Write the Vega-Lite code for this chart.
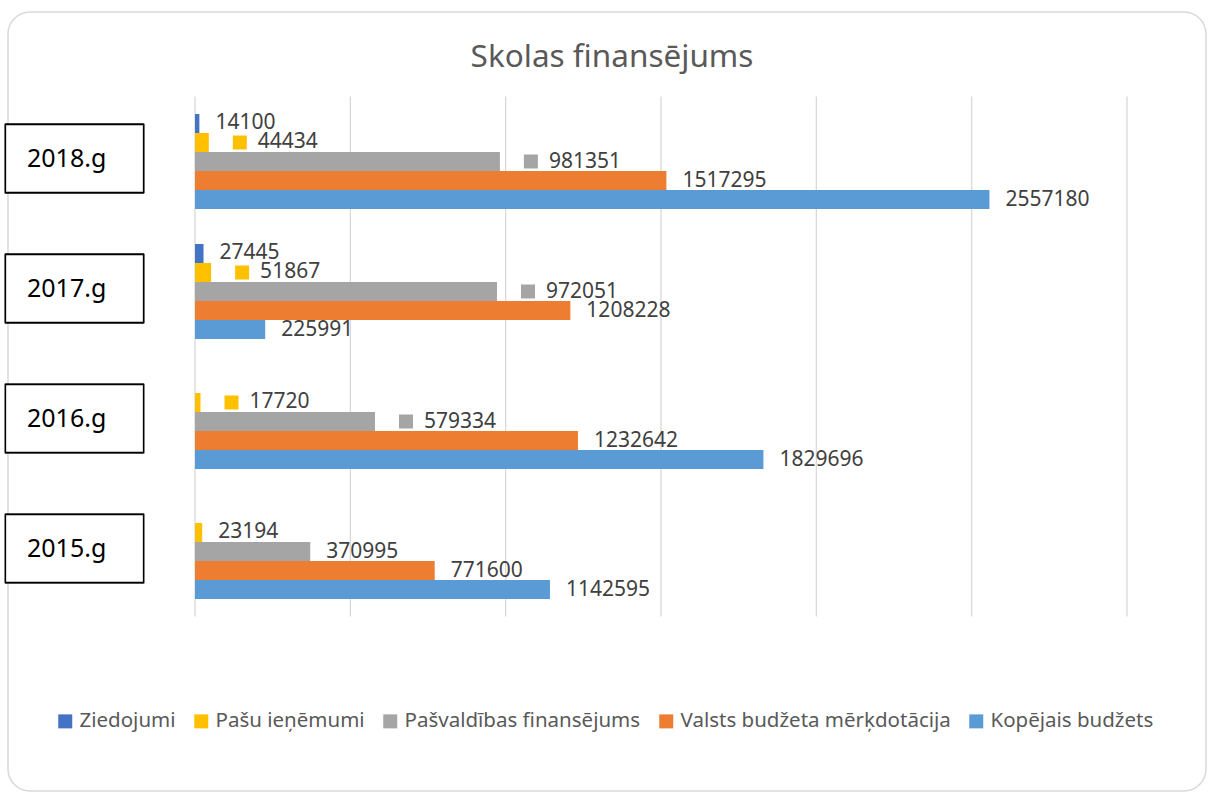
{
  "$schema": "https://vega.github.io/schema/vega-lite/v6.json",
  "width": 1198,
  "height": 779,
  "autosize": {"type": "none"},
  "padding": {"left": 8, "top": 12, "right": 2, "bottom": 2},
  "background": "white",
  "config": {
    "view": {"stroke": "#d9d9d9", "strokeWidth": 1.5, "cornerRadius": 22, "fill": "white"},
    "font": "Noto Sans"
  },
  "title": {
    "text": "Skolas finansējums",
    "fontSize": 31.5,
    "font": "Noto Sans",
    "fontWeight": "normal",
    "color": "#595959",
    "anchor": "middle",
    "frame": "group",
    "offset": -45,
    "baseline": "middle",
    "dx": 5,
    "dy": 32
  },
  "data": {
    "values": [
      {"year": "2018", "series": "Ziedojumi", "value": 14100},
      {"year": "2018", "series": "Pašu ieņēmumi", "value": 44434},
      {"year": "2018", "series": "Pašvaldības finansējums", "value": 981351},
      {"year": "2018", "series": "Valsts budžeta mērķdotācija", "value": 1517295},
      {"year": "2018", "series": "Kopējais budžets", "value": 2557180},
      {"year": "2017", "series": "Ziedojumi", "value": 27445},
      {"year": "2017", "series": "Pašu ieņēmumi", "value": 51867},
      {"year": "2017", "series": "Pašvaldības finansējums", "value": 972051},
      {"year": "2017", "series": "Valsts budžeta mērķdotācija", "value": 1208228},
      {"year": "2017", "series": "Kopējais budžets", "value": 225991},
      {"year": "2016", "series": "Pašu ieņēmumi", "value": 17720},
      {"year": "2016", "series": "Pašvaldības finansējums", "value": 579334},
      {"year": "2016", "series": "Valsts budžeta mērķdotācija", "value": 1232642},
      {"year": "2016", "series": "Kopējais budžets", "value": 1829696},
      {"year": "2015", "series": "Pašu ieņēmumi", "value": 23194},
      {"year": "2015", "series": "Pašvaldības finansējums", "value": 370995},
      {"year": "2015", "series": "Valsts budžeta mērķdotācija", "value": 771600},
      {"year": "2015", "series": "Kopējais budžets", "value": 1142595}
    ]
  },
  "layer": [
    {
      "data": {"values": [{"g": 0}, {"g": 500000}, {"g": 1000000}, {"g": 1500000}, {"g": 2000000}, {"g": 2500000}, {"g": 3000000}]},
      "mark": {"type": "rule", "color": "#d9d9d9", "strokeWidth": 1.3},
      "encoding": {
        "x": {"field": "g", "type": "quantitative", "scale": {"domain": [-601930, 3254260], "nice": false, "zero": false}, "axis": null},
        "y": {"datum": "2018", "type": "nominal", "bandPosition": -0.184, "scale": {"domain": ["2018", "2017", "2016", "2015"], "range": [84.5, 604.5], "paddingInner": 0.2692, "paddingOuter": 0.1346, "align": 0.5}, "axis": null},
        "y2": {"datum": "2015", "bandPosition": 1.184}
      }
    },
    {
      "mark": {"type": "bar"},
      "encoding": {
        "x": {"field": "value", "type": "quantitative", "scale": {"domain": [-601930, 3254260], "nice": false, "zero": false}, "axis": null},
        "x2": {"datum": 0},
        "y": {"field": "year", "type": "nominal", "scale": {"domain": ["2018", "2017", "2016", "2015"], "range": [84.5, 604.5], "paddingInner": 0.2692, "paddingOuter": 0.1346, "align": 0.5}, "axis": null},
        "yOffset": {"field": "series", "type": "nominal", "scale": {"domain": ["Ziedojumi", "Pašu ieņēmumi", "Pašvaldības finansējums", "Valsts budžeta mērķdotācija", "Kopējais budžets"], "paddingInner": 0, "paddingOuter": 0}},
        "color": {
          "field": "series", "type": "nominal",
          "scale": {"domain": ["Ziedojumi", "Pašu ieņēmumi", "Pašvaldības finansējums", "Valsts budžeta mērķdotācija", "Kopējais budžets"], "range": ["#4472C4", "#FFC000", "#A5A5A5", "#ED7D31", "#5B9BD5"]},
          "legend": {
            "orient": "none", "legendX": 47, "legendY": 699, "direction": "horizontal", "title": null,
            "symbolType": "square", "symbolSize": 196, "symbolStrokeWidth": 0, "labelOffset": 4, "labelLimit": 500,
            "columnPadding": 15, "labelFont": "Noto Sans", "labelFontSize": 20.5, "labelColor": "#595959", "padding": 0
          }
        }
      }
    },
    {
      "mark": {"type": "bar", "fill": "white", "stroke": "black", "strokeWidth": 1.3, "height": {"band": 0.716}, "yOffset": -3},
      "encoding": {
        "x": {"datum": -609970, "type": "quantitative"},
        "x2": {"datum": -165770},
        "y": {"field": "year", "type": "nominal"}
      }
    },
    {
      "transform": [{"aggregate": [], "groupby": ["year"]}, {"calculate": "datum.year + '.g'", "as": "label"}],
      "mark": {"type": "text", "align": "left", "baseline": "middle", "fontSize": 25, "color": "black", "font": "Noto Sans", "yOffset": -3},
      "encoding": {
        "x": {"datum": -540770, "type": "quantitative"},
        "y": {"field": "year", "type": "nominal"},
        "text": {"field": "label", "type": "nominal"}
      }
    },
    {
      "transform": [{"filter": {"not": {"and": [{"field": "year", "oneOf": ["2018", "2017", "2016"]}, {"field": "series", "oneOf": ["Pašu ieņēmumi", "Pašvaldības finansējums"]}]}}}],
      "mark": {"type": "text", "align": "left", "baseline": "middle", "dx": 16, "fontSize": 21, "color": "#404040", "font": "Noto Sans"},
      "encoding": {
        "x": {"field": "value", "type": "quantitative"},
        "y": {"field": "year", "type": "nominal"},
        "yOffset": {"field": "series", "type": "nominal"},
        "text": {"field": "value", "type": "quantitative", "format": "d"}
      }
    },
    {
      "transform": [{"filter": {"and": [{"field": "year", "oneOf": ["2018", "2017", "2016"]}, {"field": "series", "oneOf": ["Pašu ieņēmumi", "Pašvaldības finansējums"]}]}}],
      "mark": {"type": "text", "align": "left", "baseline": "middle", "dx": 49, "fontSize": 21, "color": "#404040", "font": "Noto Sans"},
      "encoding": {
        "x": {"field": "value", "type": "quantitative"},
        "y": {"field": "year", "type": "nominal"},
        "yOffset": {"field": "series", "type": "nominal"},
        "text": {"field": "value", "type": "quantitative", "format": "d"}
      }
    },
    {
      "transform": [{"filter": {"and": [{"field": "year", "oneOf": ["2018", "2017", "2016"]}, {"field": "series", "oneOf": ["Pašu ieņēmumi", "Pašvaldības finansējums"]}]}}],
      "mark": {"type": "square", "size": 196, "opacity": 1, "xOffset": 31},
      "encoding": {
        "x": {"field": "value", "type": "quantitative"},
        "y": {"field": "year", "type": "nominal"},
        "yOffset": {"field": "series", "type": "nominal"},
        "color": {"field": "series", "type": "nominal"}
      }
    }
  ]
}
